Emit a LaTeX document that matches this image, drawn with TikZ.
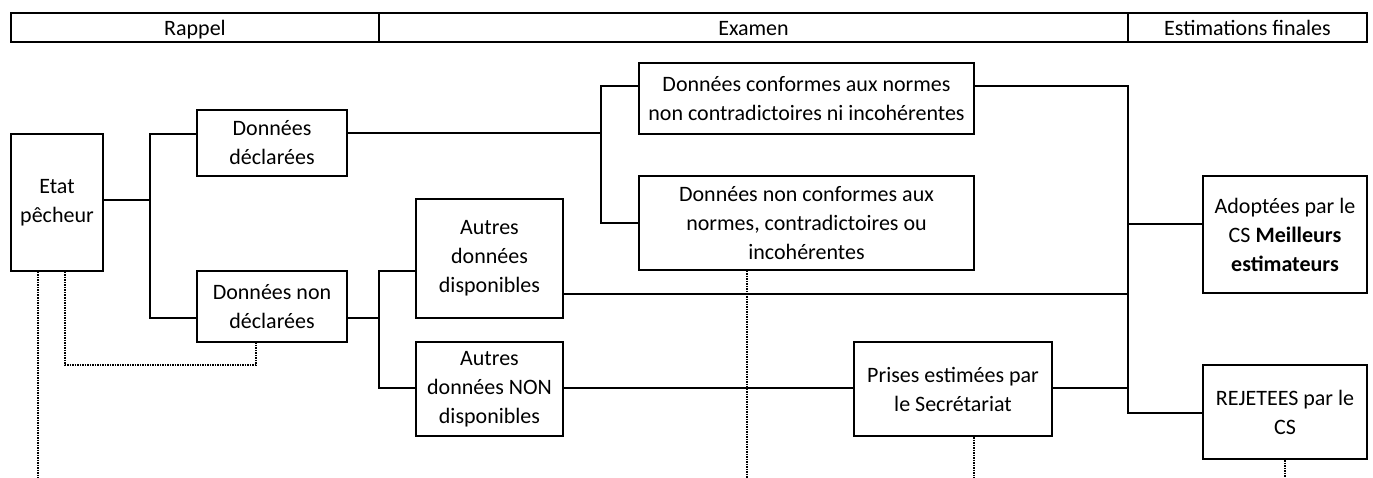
\documentclass[tikz,border=0pt]{standalone}
\usepackage{fontspec}
\setmainfont{Carlito}
\begin{document}
\begin{tikzpicture}[x=1pt,y=-1pt,
  box/.style={draw,line width=2pt,inner sep=0pt,align=center,font=\fontsize{22pt}{29pt}\selectfont},
  hdr/.style={draw,line width=2pt,inner sep=0pt,minimum height=29pt,text height=20pt,text depth=3pt,font=\fontsize{22pt}{29pt}\selectfont},
  conn/.style={line width=2pt},
  dotline/.style={line width=1.5pt,densely dotted}]
\useasboundingbox (0,0) rectangle (1373,478);
% header
\node[hdr,minimum width=368pt] (h1) at (195,27.5) {Rappel};
\node[hdr,minimum width=749pt] (h2) at (753.5,27.5) {Examen};
\node[hdr,minimum width=239pt] (h3) at (1247.5,27.5) {Estimations finales};
% boxes
\node[box,minimum width=92pt,minimum height=137pt] (etat) at (57,202.5) {Etat\\pêcheur};
\node[box,minimum width=150pt,minimum height=66pt] (dd) at (272,143) {Données\\déclarées};
\node[box,minimum width=150pt,minimum height=71pt] (dnd) at (272,306.5) {Données non\\déclarées};
\node[box,minimum width=147pt,minimum height=119pt] (ad) at (489.5,258.5) {Autres\\données\\disponibles};
\node[box,minimum width=147pt,minimum height=94pt] (anon) at (489.5,389) {Autres\\données NON\\disponibles};
\node[box,minimum width=335pt,minimum height=71pt] (dc) at (806.5,98.5) {Données conformes aux normes\\non contradictoires ni incohérentes};
\node[box,minimum width=335pt,minimum height=94pt] (dnc) at (806.5,223) {Données non conformes aux\\normes, contradictoires ou\\incohérentes};
\node[box,minimum width=198pt,minimum height=94pt] (pr) at (953,389) {Prises estimées par\\le Secrétariat};
\node[box,minimum width=164pt,minimum height=117pt] (adopt) at (1285,234.5) {Adoptées par le\\CS \textbf{Meilleurs}\\\textbf{estimateurs}};
\node[box,minimum width=164pt,minimum height=94pt] (rej) at (1285,412) {REJETEES par le\\CS};
% connectors
\draw[conn] ([yshift=2.5pt]etat.east) -- (150,200);
\draw[conn] ([yshift=9pt]dd.west) -- (150,134) -- (150,318) -- ([yshift=-11.5pt]dnd.west);
\draw[conn] ([yshift=-11.5pt]dnd.east) -- (379,318);
\draw[conn] ([yshift=-12.5pt]ad.west) -- (379,271) -- (379,388) -- ([yshift=1pt]anon.west);
\draw[conn] ([yshift=10pt]dd.east) -- (601,133);
\draw[conn] ([yshift=12.5pt]dc.west) -- (601,86) -- (601,223) -- (dnc.west);
\draw[conn] ([yshift=12.5pt]dc.east) -- (1128,86) -- (1128,413) -- ([yshift=-1pt]rej.west);
\draw[conn] ([yshift=-35.5pt]ad.east) -- (1128,294);
\draw[conn] ([yshift=1pt]pr.east) -- (1128,388);
\draw[conn] ([yshift=10.5pt]adopt.west) -- (1128,224);
\draw[conn] ([yshift=1pt]anon.east) -- ([yshift=1pt]pr.west);
% dotted
\draw[dotline] ([xshift=-19pt]etat.south) -- (38,478);
\draw[dotline] ([xshift=8pt]etat.south) -- (65,365) -- (256,365) -- ([xshift=-16pt]dnd.south);
\draw[dotline] ([xshift=-59.5pt]dnc.south) -- (747,478);
\draw[dotline] ([xshift=21pt]pr.south) -- (974,478);
\draw[dotline] (rej.south) -- (1285,478);
\end{tikzpicture}
\end{document}
